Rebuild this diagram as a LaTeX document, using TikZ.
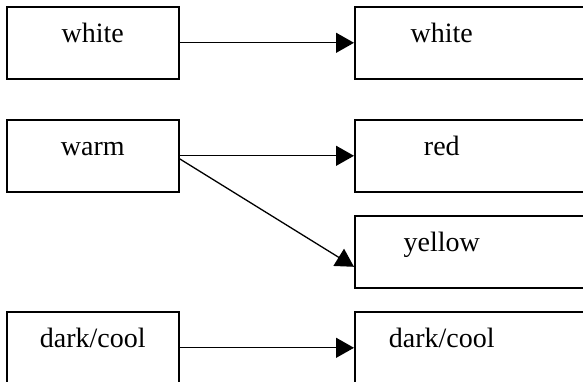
\documentclass[tikz,border=0pt]{standalone}
\usepackage{fontspec}
\setmainfont{Liberation Serif}
\usetikzlibrary{arrows.meta}
\tikzset{
colbox/.style={
  draw,
  line width=1.6pt,
  inner sep=0pt,
  text height=36pt,
  text depth=36pt,
  font=\fontsize{28}{34}\selectfont
},
leftbox/.style={colbox,text width=172pt,align=center},
rightbox/.style={colbox,text width=240pt,align=left},
link/.style={line width=1.3pt,-{Triangle[length=18pt,width=20pt]}}
}

\begin{document}
\begin{tikzpicture}[x=1pt,y=-1pt]
\useasboundingbox (0,0) rectangle (583,382);
% the left column
\node[leftbox,anchor=north west] (inwhite) at (6,6) {white};
\node[leftbox,anchor=north west] (inwarm) at (6,119) {warm};
\node[leftbox,anchor=north west] (indark) at (6,311) {dark/cool};
% the right column
\node[rightbox,anchor=north west] (outwhite) at (354,6) {\makebox[174pt]{white}};
\node[rightbox,anchor=north west] (outred) at (354,119) {\makebox[174pt]{red}};
\node[rightbox,anchor=north west] (outyellow) at (354,215) {\makebox[174pt]{yellow}};
\node[rightbox,anchor=north west] (outdark) at (354,311) {\makebox[174pt]{dark/cool}};
% the arrows
\draw[link] (inwhite.east) -- (outwhite.west);
\draw[link] (inwarm.east) -- (outred.west);
\draw[link] ([yshift=-3pt]inwarm.east) -- ([yshift=-15pt]outyellow.west);
\draw[link] (indark.east) -- (outdark.west);
\end{tikzpicture}
\end{document}
